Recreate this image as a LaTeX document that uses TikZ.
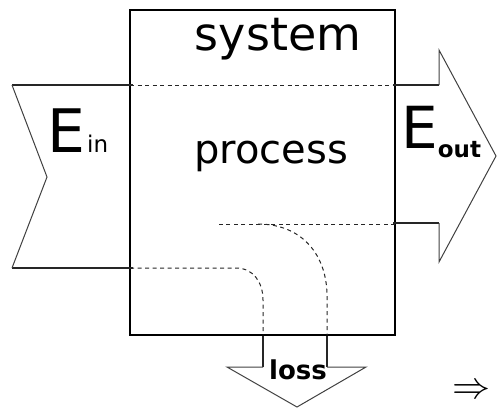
\documentclass[tikz,border=0pt]{standalone}
\usepackage{fontspec}
\setmainfont{DejaVu Sans}
\begin{document}
\begin{tikzpicture}[x=1pt,y=-1pt,
  boxline/.style={line width=2pt, black},
  shaft/.style={line width=2.6pt, black!85},
  head/.style={line width=1pt, black!75},
  flow/.style={line width=1pt, black!85, dash pattern=on 4pt off 3.5pt},
  lbl/.style={inner sep=0pt, anchor=base}]
\useasboundingbox (0,0) rectangle (497,408);
% system box
\coordinate (boxtl) at (130,10);
\coordinate (boxbr) at (395,335);
\draw[boxline] (boxtl) rectangle (boxbr);
% input arrow
\coordinate (inTL) at (12,85);
\coordinate (inBL) at (12,268);
\coordinate (inNotch) at (47,177);
\coordinate (inTR) at (133,85);
\coordinate (inBR) at (133,268);
\draw[shaft] (inTL) -- (inTR);
\draw[shaft] (inBL) -- (inBR);
\draw[head] (inTL) -- (inNotch) -- (inBL);
% output arrow
\coordinate (outTL) at (393,85);
\coordinate (outTR) at (439,85);
\coordinate (outTop) at (439,50);
\coordinate (outTip) at (496,156);
\coordinate (outBot) at (439,262);
\coordinate (outBR) at (439,223);
\coordinate (outBL) at (393,223);
\draw[shaft] (outTL) -- (outTR);
\draw[shaft] (outBL) -- (outBR);
\draw[head] (outTR) -- (outTop) -- (outTip) -- (outBot) -- (outBR);
% flow lines inside
\coordinate (dTopL) at (130,85);
\coordinate (dTopR) at (395,85);
\draw[flow] (dTopL) -- (dTopR);
\coordinate (dMidL) at (218,224);
\coordinate (dMidR) at (395,224);
\draw[flow] (dMidR) -- (dMidL);
\coordinate (oA) at (258,224);
\coordinate (oB) at (327,296);
\coordinate (oC) at (327,335);
\draw[flow] (oA) .. controls (302,224) and (327,255) .. (oB) -- (oC);
\coordinate (iA) at (130,268);
\coordinate (iB) at (236,268);
\coordinate (iC) at (263,300);
\coordinate (iD) at (263,335);
\draw[flow] (iA) -- (iB) .. controls (253,268) and (263,282) .. (iC) -- (iD);
% loss arrow
\coordinate (lL) at (263,336);
\coordinate (lR) at (327,336);
\coordinate (lLb) at (263,367);
\coordinate (lRb) at (327,367);
\coordinate (lHL) at (227,367);
\coordinate (lHR) at (366,367);
\coordinate (lTip) at (297,407);
\draw[shaft] (lL) -- (lLb);
\draw[shaft] (lR) -- (lRb);
\draw[head] (lLb) -- (lHL) -- (lTip) -- (lHR) -- (lRb);
% texts
\node[lbl] (sys) at (278,50) {\fontsize{46}{46}\selectfont system};
\node[lbl] (proc) at (271,163) {\fontsize{40}{40}\selectfont process};
\node[lbl, anchor=base west] (ein) at (47,152) {\fontsize{60}{60}\selectfont E\hspace{2pt}\raisebox{0pt}{\fontsize{23}{23}\selectfont in}};
\node[lbl, anchor=base west] (eout) at (401,148) {\fontsize{58}{58}\selectfont E\raisebox{-9pt}{\fontsize{23}{23}\selectfont\bfseries out}};
\node[lbl] (loss) at (298,379) {\fontsize{26}{26}\selectfont\bfseries loss};
\node[inner sep=0pt, scale=3.8] (impl) at (471,392) {$\Rightarrow$};
\end{tikzpicture}
\end{document}
